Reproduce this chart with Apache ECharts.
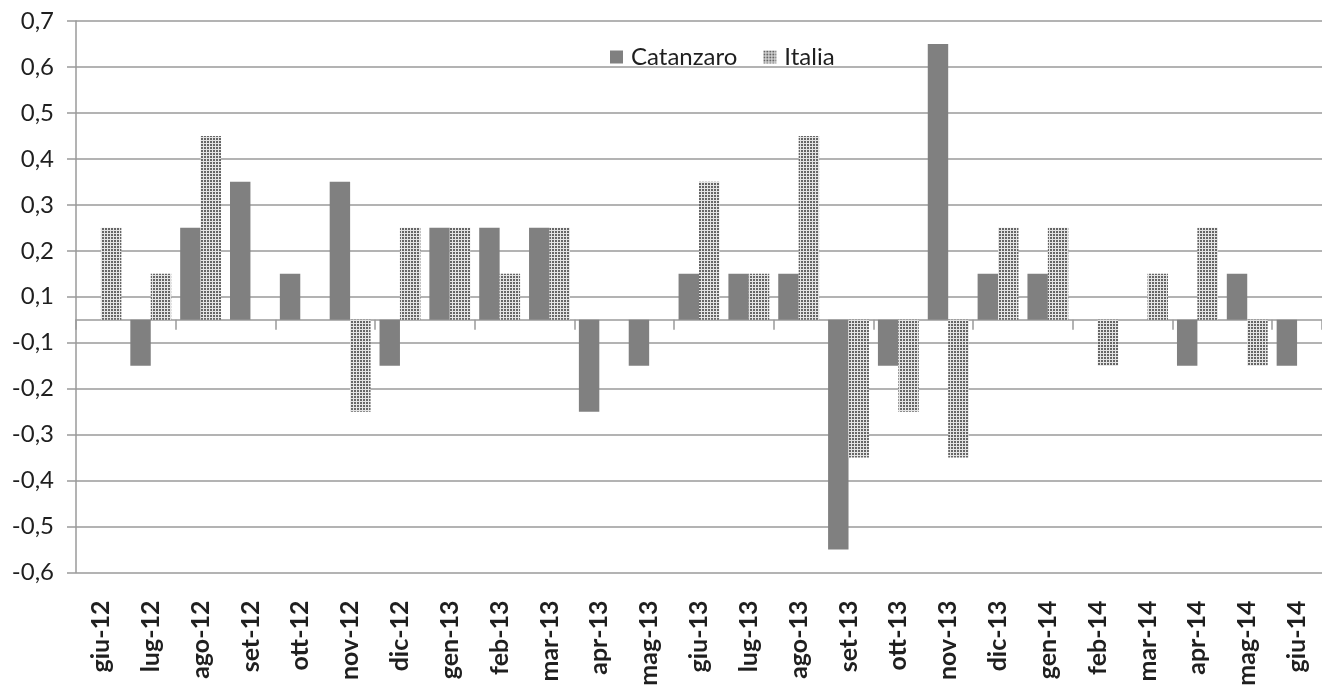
<!DOCTYPE html>
<html>
<head>
<meta charset="utf-8">
<script src="https://cdn.jsdelivr.net/npm/echarts@6/dist/echarts.min.js"></script>
<style>
html,body{margin:0;padding:0;background:#fff;}
#chart{width:1322px;height:690px;}
</style>
</head>
<body>
<div id="chart"></div>
<script>
const categories = ['giu-12','lug-12','ago-12','set-12','ott-12','nov-12','dic-12','gen-13','feb-13','mar-13','apr-13','mag-13','giu-13','lug-13','ago-13','set-13','ott-13','nov-13','dic-13','gen-14','feb-14','mar-14','apr-14','mag-14','giu-14'];
const catanzaro = [0,-0.1,0.2,0.3,0.1,0.3,-0.1,0.2,0.2,0.2,-0.2,-0.1,0.1,0.1,0.1,-0.5,-0.1,0.6,0.1,0.1,0,0,-0.1,0.1,-0.1];
const italia = [0.2,0.1,0.4,0,0,-0.2,0.2,0.2,0.1,0.2,0,0,0.3,0.1,0.4,-0.3,-0.2,-0.3,0.2,0.2,-0.1,0.1,0.2,-0.1,0];
const yTickLabels = ['-0,6','-0,5','-0,4','-0,3','-0,2','-0,1','0,1','0,2','0,3','0,4','0,5','0,6','0,7'];
const yMin = -0.55, yMax = 0.65, yStep = 0.1;

function makePattern(){
  const c = document.createElement('canvas');
  c.width = 3; c.height = 3;
  const ctx = c.getContext('2d');
  ctx.fillStyle = '#e4e4e4';
  ctx.fillRect(0,0,3,3);
  ctx.fillStyle = '#666666';
  ctx.fillRect(0,0,2,2);
  return c;
}
const pattern = {image: makePattern(), repeat: 'repeat'};

const FONT = 'Lato';
const TXT = '#1f1f1f';
const GRID = '#9a9a9a';

const chart = echarts.init(document.getElementById('chart'), null, {renderer:'canvas'});
chart.setOption({
  animation: false,
  backgroundColor: '#fff',
  textStyle: {fontFamily: FONT},
  legend: {
    left: 605, top: 40,
    itemWidth: 13, itemHeight: 13, itemGap: 26,
    icon: 'rect',
    textStyle: {fontFamily: FONT, fontSize: 24, color: TXT, padding: [0,0,0,3]},
    data: ['Catanzaro','Italia']
  },
  grid: {left: 76, right: 0, top: 21, bottom: 117.5, containLabel: false},
  xAxis: [{
    type: 'category', data: categories, position: 'bottom',
    axisLine: {show: true, onZero: true, lineStyle: {color: GRID, width: 1.5}},
    axisTick: {show: true, length: 10, lineStyle: {color: GRID, width: 1.5}},
    axisLabel: {show: false},
    splitLine: {show: false}
  },{
    type: 'category', data: categories, position: 'bottom',
    axisLine: {show: false, onZero: false},
    axisTick: {show: false},
    axisLabel: {show: true, rotate: 90, margin: 28, fontFamily: FONT, fontSize: 25, fontWeight: 'bold', color: TXT, interval: 0},
    splitLine: {show: false}
  }],
  yAxis: {
    type: 'value', min: yMin, max: yMax, interval: yStep,
    axisLine: {show: true, lineStyle: {color: GRID, width: 1.5}},
    axisTick: {show: true, length: 9, lineStyle: {color: GRID, width: 1.5}},
    axisLabel: {
      margin: 22, fontFamily: FONT, fontSize: 24, color: TXT,
      formatter: function(v){ return yTickLabels[Math.round((v - yMin)/yStep)]; }
    },
    splitLine: {show: true, lineStyle: {color: GRID, width: 1.5}}
  },
  series: [{
    name: 'Catanzaro', type: 'bar', xAxisIndex: 0, data: catanzaro,
    barGap: '0%', barCategoryGap: '18%',
    itemStyle: {color: '#808080'}
  },{
    name: 'Italia', type: 'bar', xAxisIndex: 0, data: italia,
    barGap: '0%', barCategoryGap: '18%',
    itemStyle: {color: pattern}
  }]
});
</script>
</body>
</html>
